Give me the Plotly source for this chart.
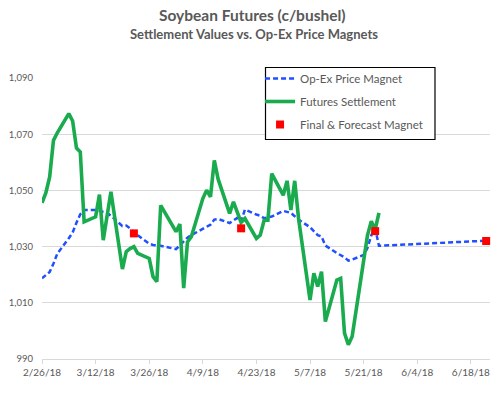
import plotly.graph_objects as go

# ---- data ----
settle_dates = ["2018-02-26","2018-02-27","2018-02-28","2018-03-01","2018-03-02",
    "2018-03-05","2018-03-06","2018-03-07","2018-03-08","2018-03-09",
    "2018-03-12","2018-03-13","2018-03-14","2018-03-15","2018-03-16",
    "2018-03-19","2018-03-20","2018-03-21","2018-03-22","2018-03-23",
    "2018-03-26","2018-03-27","2018-03-28","2018-03-29",
    "2018-04-02","2018-04-03","2018-04-04","2018-04-05","2018-04-06",
    "2018-04-09","2018-04-10","2018-04-11","2018-04-12","2018-04-13",
    "2018-04-16","2018-04-17","2018-04-18","2018-04-19","2018-04-20",
    "2018-04-23","2018-04-24","2018-04-25","2018-04-26","2018-04-27",
    "2018-04-30","2018-05-01","2018-05-02","2018-05-03","2018-05-04",
    "2018-05-07","2018-05-08","2018-05-09","2018-05-10","2018-05-11",
    "2018-05-14","2018-05-15","2018-05-16","2018-05-17","2018-05-18",
    "2018-05-21","2018-05-22","2018-05-23","2018-05-24","2018-05-25"]
settle_values = [1045.6,1049.1,1054.8,1067.8,1070.5,
    1077.3,1074.7,1065.1,1063.7,1038.8,
    1040.6,1048.5,1032.3,1041.0,1049.5,
    1022.0,1028.2,1029.3,1030.0,1027.6,
    1025.8,1019.3,1017.5,1044.7,
    1035.3,1038.0,1015.2,1031.7,1033.5,
    1047.1,1050.1,1047.7,1060.7,1054.0,
    1041.8,1045.9,1042.3,1038.6,1040.0,
    1032.9,1034.1,1039.4,1039.4,1056.0,
    1048.3,1053.4,1043.0,1053.4,1040.0,
    1011.0,1020.5,1015.8,1021.1,1003.3,
    1018.1,1018.7,999.2,995.1,998.0,
    1026.6,1034.0,1039.0,1036.0,1042.0]

magnet_dates = settle_dates + ["2018-06-22"]
magnet_values = [1018.7,1019.7,1021.0,1024.0,1027.5,
    1033.0,1035.0,1038.5,1041.5,1043.0,
    1043.0,1042.7,1042.3,1042.0,1041.0,
    1037.3,1037.5,1036.5,1035.0,1034.0,
    1031.0,1030.6,1030.5,1030.3,
    1029.1,1030.5,1032.0,1033.2,1034.1,
    1036.5,1037.2,1037.8,1039.6,1039.8,
    1038.4,1039.2,1040.2,1039.0,1043.2,
    1041.4,1041.0,1040.1,1040.3,1040.7,
    1042.7,1042.3,1042.0,1040.8,1039.6,
    1036.9,1035.4,1034.1,1033.6,1030.4,
    1027.7,1027.0,1026.2,1025.0,1025.4,
    1027.0,1029.5,1034.0,1036.5,1030.3,
    1032.1]

final_dates = ["2018-03-22","2018-04-19","2018-05-24","2018-06-22"]
final_values = [1034.7,1036.5,1035.5,1032.0]

tick_dates = ["2018-02-26","2018-03-12","2018-03-26","2018-04-09","2018-04-23",
              "2018-05-07","2018-05-21","2018-06-04","2018-06-18"]
tick_labels = ["2/26/18","3/12/18","3/26/18","4/9/18","4/23/18",
               "5/7/18","5/21/18","6/4/18","6/18/18"]
y_ticks = [990, 1010, 1030, 1050, 1070, 1090]
y_labels = ["990", "1,010", "1,030", "1,050", "1,070", "1,090"]

title = "Soybean Futures (c/bushel)"
subtitle = "Settlement Values vs. Op-Ex Price Magnets"

# ---- figure ----
FONT = "Lato, 'Open Sans', sans-serif"
GRAY = "#595959"

W, H = 499, 395
ML, MR, MT, MB = 38, 9, 78, 36
PW, PH = W - ML - MR, H - MT - MB

def px_x(x):
    return (x - ML) / PW

def px_y(y):
    return (H - MB - y) / PH

fig = go.Figure()
fig.add_trace(go.Scatter(x=magnet_dates, y=magnet_values, mode="lines",
    name="Op-Ex Price Magnet", legendgroup="a",
    line=dict(color="#1f4fff", width=2.5, dash="5px,3px")))
fig.add_trace(go.Scatter(x=settle_dates, y=settle_values, mode="lines",
    name="Futures Settlement", legendgroup="b",
    line=dict(color="#1aab4f", width=3.6)))
fig.add_trace(go.Scatter(x=final_dates, y=final_values, mode="markers",
    name="Final & Forecast Magnet", legendgroup="c", cliponaxis=False,
    marker=dict(symbol="square", size=8, color="#ff0000")))

fig.update_layout(
    width=W, height=H,
    margin=dict(l=ML, r=MR, t=MT, b=MB),
    paper_bgcolor="white", plot_bgcolor="white",
    font=dict(family=FONT, color=GRAY, size=10),
    showlegend=True,
    legend=dict(x=px_x(258), y=px_y(64), xanchor="left", yanchor="top",
                borderwidth=0, bgcolor="rgba(0,0,0,0)",
                font=dict(size=11.5, color=GRAY), tracegroupgap=4,
                itemwidth=30),
    shapes=[dict(type="rect", xref="paper", yref="paper", layer="above",
                 x0=px_x(263.5), x1=px_x(434.5), y0=px_y(67.5), y1=px_y(139.5),
                 line=dict(color="black", width=1.2), fillcolor="white")],
    annotations=[
        dict(text="<b>%s</b>" % title, xref="paper", yref="paper",
             x=px_x(250), y=px_y(15), showarrow=False, xanchor="center", yanchor="middle",
             font=dict(size=15.5, color=GRAY, family=FONT)),
        dict(text="<b>%s</b>" % subtitle, xref="paper", yref="paper",
             x=px_x(252), y=px_y(33.5), showarrow=False, xanchor="center", yanchor="middle",
             font=dict(size=13, color=GRAY, family=FONT)),
    ],
)
fig.update_xaxes(type="date", range=["2018-02-26", "2018-06-23"],
    tickvals=tick_dates, ticktext=tick_labels,
    showgrid=False, showline=True, linecolor="#d9d9d9", linewidth=1,
    ticks="outside", ticklen=4, tickcolor="#d9d9d9",
    tickfont=dict(size=10, color=GRAY), zeroline=False)
fig.update_yaxes(range=[990, 1090], tickvals=y_ticks, ticktext=y_labels,
    showgrid=True, gridcolor="#d9d9d9", gridwidth=1,
    showline=False, zeroline=False, ticks="", ticklabelstandoff=8,
    tickfont=dict(size=9.5, color=GRAY))

fig.write_html("out.html", config={"displayModeBar": False},
               post_script="document.body.style.margin='0';")
